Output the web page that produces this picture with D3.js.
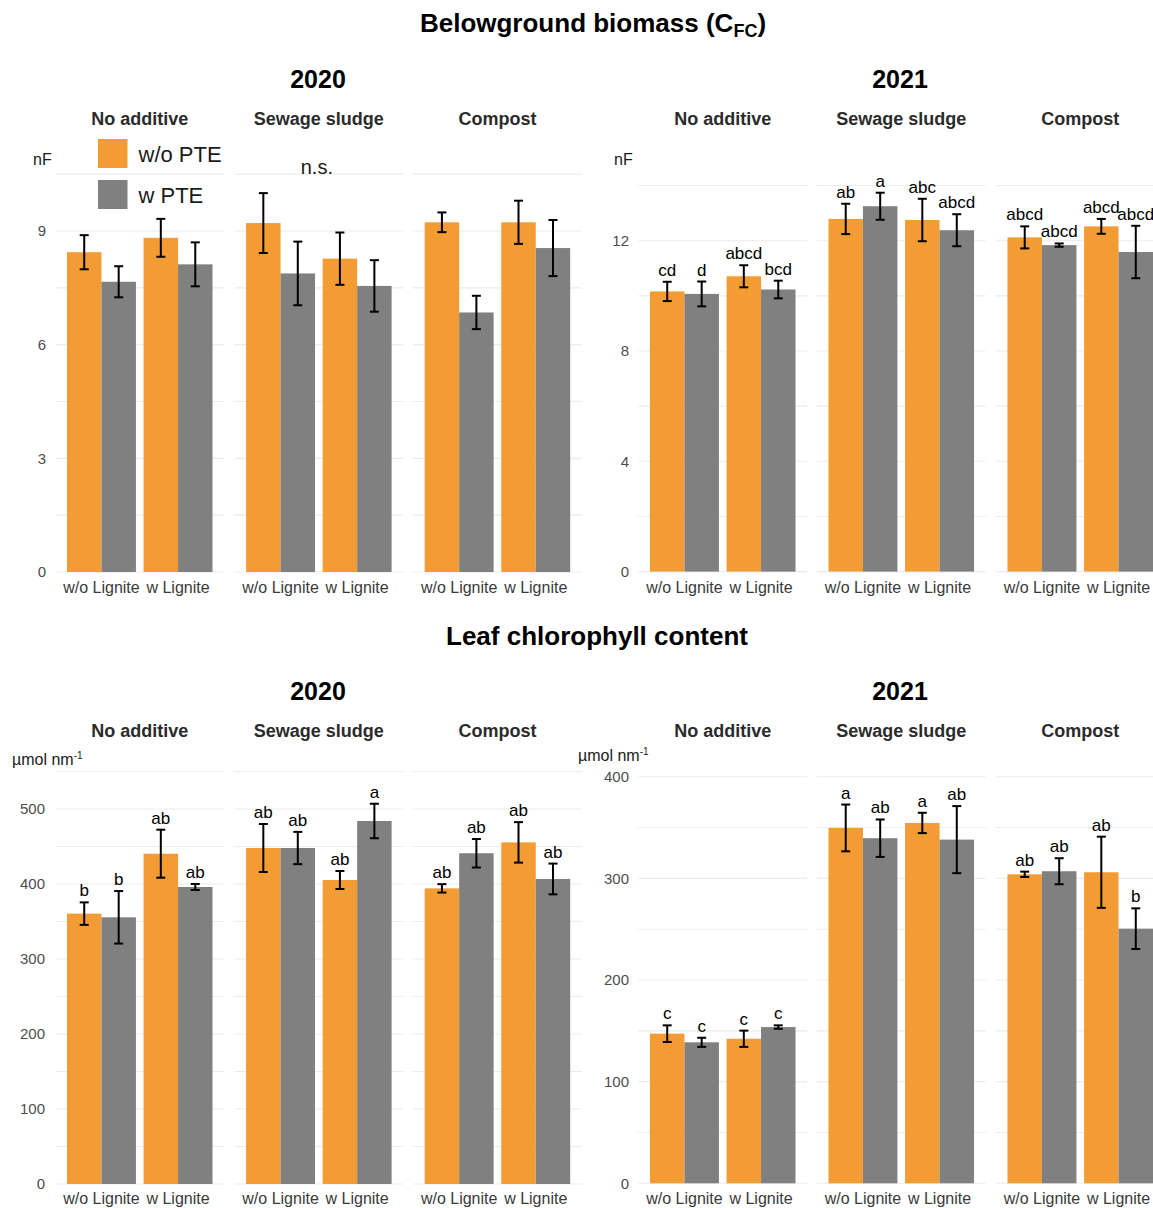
<!DOCTYPE html>
<html>
<head>
<meta charset="utf-8">
<script src="https://cdn.jsdelivr.net/npm/d3@7"></script>
<style>
  html, body { margin: 0; padding: 0; background: #ffffff; }
  svg { display: block; font-family: "Liberation Sans", Arial, Helvetica, sans-serif; }
</style>
</head>
<body>
<svg id="chart" width="1153" height="1208"></svg>
<script>
// ---- factor levels ----
const years = ["2020", "2021"];
const additives = ["No additive", "Sewage sludge", "Compost"];
const lignite = ["w/o Lignite", "w Lignite"];
const pte = ["w/o PTE", "w PTE"];

// ---- values: order = additive -> lignite -> PTE (w/o, w) ----
const biomass2020Mean = [8.44, 7.66, 8.82, 8.12,  9.21, 7.88, 8.27, 7.55,  9.23, 6.85, 9.23, 8.55];
const biomass2020SE   = [0.45, 0.41, 0.50, 0.58,  0.79, 0.84, 0.69, 0.68,  0.26, 0.44, 0.57, 0.74];

const biomass2021Mean = [10.16, 10.07, 10.71, 10.23,  12.79, 13.25, 12.75, 12.38,  12.12, 11.84, 12.52, 11.59];
const biomass2021SE   = [0.35, 0.45, 0.40, 0.32,  0.55, 0.49, 0.77, 0.58,  0.40, 0.06, 0.27, 0.95];
const biomass2021Letters = ["cd", "d", "abcd", "bcd",  "ab", "a", "abc", "abcd",  "abcd", "abcd", "abcd", "abcd"];

const chl2020Mean = [360.5, 355.6, 440.4, 396.0,  448.0, 448.0, 405.3, 484.0,  394.2, 441.0, 455.5, 406.7];
const chl2020SE   = [15.0, 35.0, 32.0, 4.0,  32.0, 21.5, 12.0, 23.0,  5.6, 19.0, 27.0, 20.5];
const chl2020Letters = ["b", "b", "ab", "ab",  "ab", "ab", "ab", "a",  "ab", "ab", "ab", "ab"];

const chl2021Mean = [147.2, 138.7, 142.2, 153.7,  349.6, 339.5, 354.5, 338.1,  304.0, 307.0, 306.0, 250.5];
const chl2021SE   = [8.2, 4.5, 8.0, 1.7,  23.0, 18.4, 10.0, 33.0,  2.6, 12.8, 35.0, 20.0];
const chl2021Letters = ["c", "c", "c", "c",  "a", "ab", "a", "ab",  "ab", "ab", "ab", "b"];

// ---- axis breaks ----
const biomass2020Ticks = [0, 3, 6, 9];
const biomass2021Ticks = [0, 4, 8, 12];
const chl2020Ticks = [0, 100, 200, 300, 400, 500];
const chl2021Ticks = [0, 100, 200, 300, 400];

const titles = ["Belowground biomass", "Leaf chlorophyll content"];
const nsLabel = "n.s.";

const colors = { "w/o PTE": "#F39C34", "w PTE": "#808080" };

const svg = d3.select("#chart");

function rows(mean, se, letters) {
  const out = [];
  let i = 0;
  additives.forEach(a => lignite.forEach(l => pte.forEach(p => {
    out.push({ additive: a, lignite: l, pte: p, mean: mean[i], se: se[i], letter: letters ? letters[i] : null });
    i++;
  })));
  return out;
}

// one block = one year of one variable, three facets side by side
function drawBlock(cfg) {
  const data = rows(cfg.mean, cfg.se, cfg.letters);
  const y = d3.scaleLinear().domain([0, cfg.refVal]).range([cfg.zeroPx, cfg.refPx]);
  const panelW = 168.5;
  const x = d3.scaleBand().domain(lignite).range([0, panelW]).paddingInner(0.1).paddingOuter(0.15);
  const xs = d3.scaleBand().domain(pte).range([0, x.bandwidth()]);

  const g = svg.append("g");

  // year heading
  g.append("text")
    .attr("x", cfg.yearX).attr("y", cfg.yearY)
    .attr("text-anchor", "middle").attr("font-size", 25).attr("font-weight", "bold")
    .attr("fill", "#000").text(cfg.year);

  // y-axis unit label
  const yl = g.append("text").attr("x", cfg.unitX).attr("y", cfg.unitY)
    .attr("font-size", 16).attr("fill", "#1a1a1a");
  if (cfg.unit === "nF") {
    yl.text("nF");
  } else {
    yl.append("tspan").text("µmol nm");
    yl.append("tspan").attr("font-size", 10).attr("dy", -6).text("-1");
  }

  // tick labels via a d3 axis with hidden line
  const axis = d3.axisLeft(y).tickValues(cfg.ticks).tickSize(0).tickPadding(0);
  const ag = g.append("g").attr("transform", `translate(${cfg.tickRight},0)`).call(axis);
  ag.select(".domain").remove();
  ag.selectAll("text").attr("font-size", 15).attr("fill", "#4d4d4d")
    .attr("font-family", "Liberation Sans, Arial, sans-serif");

  const grid = d3.range(0, cfg.gridMax + 1e-9, cfg.gridStep);

  additives.forEach((a, k) => {
    const x0 = cfg.panelX[k];
    const p = g.append("g").attr("transform", `translate(${x0},0)`);

    // facet strip
    p.append("text").attr("x", panelW / 2).attr("y", cfg.stripY)
      .attr("text-anchor", "middle").attr("font-size", 18).attr("font-weight", "bold")
      .attr("fill", "#2b2b2b").text(a);

    // gridlines
    p.selectAll("line.grid").data(grid).join("line")
      .attr("class", "grid")
      .attr("x1", 0).attr("x2", panelW)
      .attr("y1", d => y(d)).attr("y2", d => y(d))
      .attr("stroke", "#ebebeb").attr("stroke-width", 1.1);

    const sub = data.filter(d => d.additive === a);

    // bars
    p.selectAll("rect.bar").data(sub).join("rect")
      .attr("class", "bar")
      .attr("x", d => x(d.lignite) + xs(d.pte))
      .attr("width", xs.bandwidth())
      .attr("y", d => y(d.mean))
      .attr("height", d => y(0) - y(d.mean))
      .attr("fill", d => colors[d.pte]);

    // error bars
    const cx = d => x(d.lignite) + xs(d.pte) + xs.bandwidth() / 2;
    const eb = p.selectAll("g.err").data(sub).join("g").attr("class", "err")
      .attr("stroke", "#000").attr("stroke-width", 2);
    eb.append("line").attr("x1", cx).attr("x2", cx)
      .attr("y1", d => y(d.mean + d.se)).attr("y2", d => y(d.mean - d.se));
    [1, -1].forEach(s => {
      eb.append("line")
        .attr("x1", d => cx(d) - 4.5).attr("x2", d => cx(d) + 4.5)
        .attr("y1", d => y(d.mean + s * d.se)).attr("y2", d => y(d.mean + s * d.se));
    });

    // significance letters
    if (cfg.letters) {
      p.selectAll("text.let").data(sub).join("text")
        .attr("class", "let")
        .attr("x", cx).attr("y", d => y(d.mean + d.se) - 6)
        .attr("text-anchor", "middle").attr("font-size", 17).attr("fill", "#000")
        .text(d => d.letter);
    }

    // x tick labels
    p.selectAll("text.xl").data(lignite).join("text")
      .attr("class", "xl")
      .attr("x", d => x(d) + x.bandwidth() / 2).attr("y", cfg.xLabY)
      .attr("text-anchor", "middle").attr("font-size", 16).attr("fill", "#3a3a3a")
      .text(d => d);
  });

  return { y, x };
}

const leftX = [55.5, 234.6, 413.2];
const rightX = [638.5, 817.0, 996.0];

// ---- Belowground biomass ----
const tb = svg.append("text").attr("x", 593).attr("y", 32)
  .attr("text-anchor", "middle").attr("font-size", 26).attr("font-weight", "bold").attr("fill", "#000");
tb.append("tspan").text(titles[0] + " (C");
tb.append("tspan").attr("font-size", 18).attr("dy", 5).text("FC");
tb.append("tspan").attr("dy", -5).text(")");

drawBlock({
  year: years[0], yearX: 318, yearY: 88, stripY: 125,
  mean: biomass2020Mean, se: biomass2020SE, letters: null,
  ticks: biomass2020Ticks, refVal: 9, zeroPx: 572, refPx: 231,
  gridMax: 10.5, gridStep: 1.5, panelX: leftX,
  unit: "nF", unitX: 33, unitY: 165, tickRight: 46, xLabY: 592.5
});
drawBlock({
  year: years[1], yearX: 900, yearY: 88, stripY: 125,
  mean: biomass2021Mean, se: biomass2021SE, letters: biomass2021Letters,
  ticks: biomass2021Ticks, refVal: 12, zeroPx: 571.6, refPx: 240.7,
  gridMax: 14, gridStep: 2, panelX: rightX,
  unit: "nF", unitX: 614, unitY: 165, tickRight: 629, xLabY: 592.5
});

// "n.s." note over the 2020 sewage sludge facet
svg.append("text").attr("x", leftX[1] + 168.5 / 2 - 2).attr("y", 173.5)
  .attr("text-anchor", "middle").attr("font-size", 20).attr("fill", "#1a1a1a").text(nsLabel);

// legend
const lg = svg.append("g");
pte.forEach((p, i) => {
  lg.append("rect").attr("x", 98).attr("y", 139 + i * 41).attr("width", 29.5).attr("height", 29)
    .attr("fill", colors[p]);
  lg.append("text").attr("x", 138.5).attr("y", 161.5 + i * 41)
    .attr("font-size", 22).attr("fill", "#1a1a1a").text(p);
});

// ---- Leaf chlorophyll content ----
svg.append("text").attr("x", 597).attr("y", 645)
  .attr("text-anchor", "middle").attr("font-size", 26).attr("font-weight", "bold").attr("fill", "#000")
  .text(titles[1]);

drawBlock({
  year: years[0], yearX: 318, yearY: 700, stripY: 737,
  mean: chl2020Mean, se: chl2020SE, letters: chl2020Letters,
  ticks: chl2020Ticks, refVal: 500, zeroPx: 1184, refPx: 809,
  gridMax: 550, gridStep: 50, panelX: leftX,
  unit: "umol", unitX: 12, unitY: 765, tickRight: 45, xLabY: 1203.5
});
drawBlock({
  year: years[1], yearX: 900, yearY: 700, stripY: 737,
  mean: chl2021Mean, se: chl2021SE, letters: chl2021Letters,
  ticks: chl2021Ticks, refVal: 400, zeroPx: 1183.3, refPx: 776.7,
  gridMax: 400, gridStep: 50, panelX: rightX,
  unit: "umol", unitX: 578, unitY: 761, tickRight: 629, xLabY: 1203.5
});
</script>
</body>
</html>
